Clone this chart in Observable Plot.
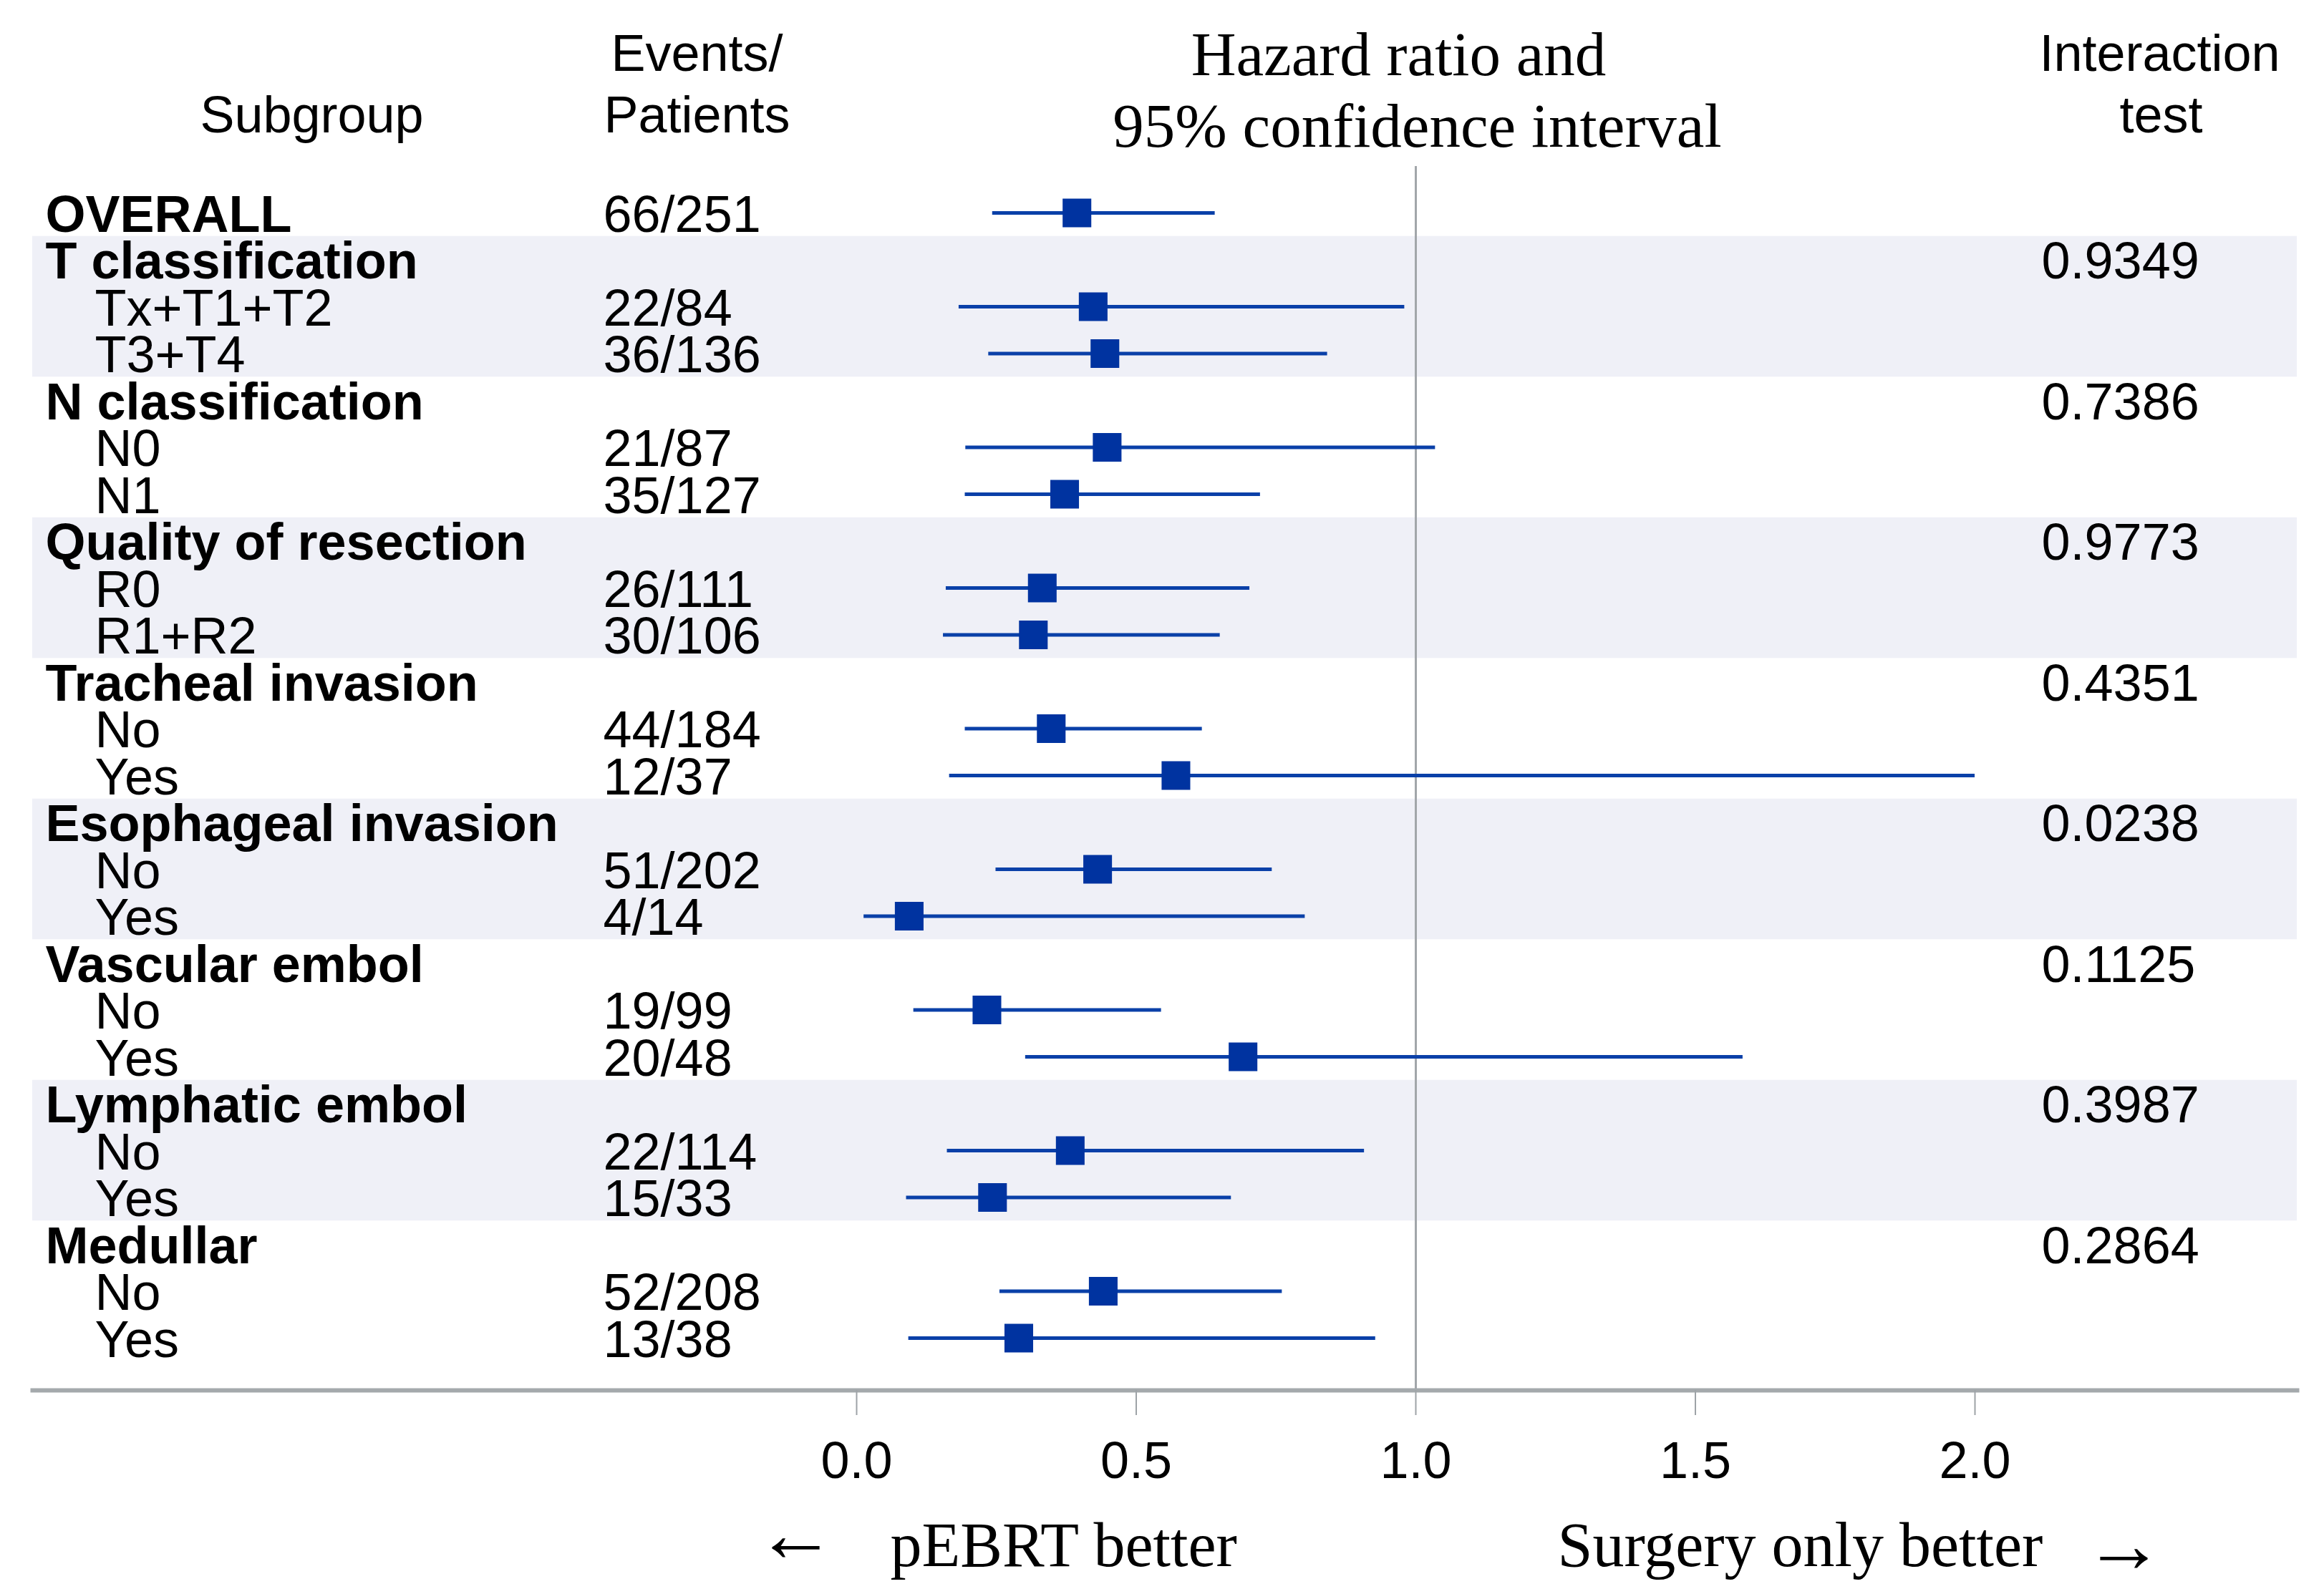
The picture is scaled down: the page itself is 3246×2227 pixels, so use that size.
<!DOCTYPE html>
<html>
<head>
<meta charset="utf-8">
<script src="https://cdn.jsdelivr.net/npm/d3@7"></script>
<script src="https://cdn.jsdelivr.net/npm/@observablehq/plot@0.6"></script>
<style>
  html, body { margin: 0; padding: 0; background: #fff; overflow: hidden; }
</style>
</head>
<body>
<div id="chart"></div>
<script>
// ---------- data ----------
const labels = ["OVERALL","T classification","Tx+T1+T2","T3+T4","N classification","N0","N1",
  "Quality of resection","R0","R1+R2","Tracheal invasion","No","Yes","Esophageal invasion","No","Yes",
  "Vascular embol","No","Yes","Lymphatic embol","No","Yes","Medullar","No","Yes"];
const isHeader = [1,1,0,0,1,0,0,1,0,0,1,0,0,1,0,0,1,0,0,1,0,0,1,0,0];
const events = ["66/251","","22/84","36/136","","21/87","35/127","","26/111","30/106","","44/184","12/37",
  "","51/202","4/14","","19/99","20/48","","22/114","15/33","","52/208","13/38"];
const hr   = [0.394,null,0.423,0.444,null,0.448,0.372,null,0.332,0.316,null,0.348,0.571,null,0.431,0.094,null,0.233,0.691,null,0.382,0.243,null,0.441,0.290];
const low  = [0.243,null,0.183,0.236,null,0.195,0.194,null,0.160,0.155,null,0.194,0.166,null,0.249,0.013,null,0.102,0.302,null,0.162,0.089,null,0.256,0.093];
const high = [0.641,null,0.980,0.842,null,1.035,0.722,null,0.703,0.650,null,0.618,2.000,null,0.743,0.802,null,0.545,1.585,null,0.908,0.670,null,0.761,0.928];
const pvalues = ["","0.9349","","","0.7386","","","0.9773","","","0.4351","","","0.0238","","",
  "0.1125","","","0.3987","","","0.2864","",""];
const xTicks = [0, 0.5, 1, 1.5, 2];

// ---------- derived tables ----------
const rows = labels.map((label, i) => ({
  i, label, header: isHeader[i] === 1, events: events[i],
  hr: hr[i], low: low[i], high: high[i], p: pvalues[i]
}));
const est = rows.filter(d => d.hr != null);
const headerIdx = rows.filter(d => d.header && d.i > 0).map(d => d.i);
const bands = headerIdx.map((h, k) => {
  const next = headerIdx[k + 1] ?? rows.length;
  return {y1: h - 0.5, y2: next - 0.5, shaded: k % 2 === 0};
}).filter(b => b.shaded);

// ---------- layout ----------
const W = 3246, H = 2227;
const ML = 45, MR = 38, MT = 232, MB = 285;
const SANS = "Liberation Sans, Arial, sans-serif";
const SERIF = "Liberation Serif, Times New Roman, serif";
const FS = 72;

function label(text, cx, baseline, o = {}) {
  return Plot.text([text], {
    text: d => d, frameAnchor: "top-left",
    dx: cx - ML, dy: baseline - MT, lineAnchor: "bottom",
    textAnchor: o.anchor ?? "middle", fontSize: o.size ?? FS,
    fontFamily: o.family ?? SANS, fontWeight: o.weight ?? "normal", fill: "black"
  });
}

const chart = Plot.plot({
  width: W, height: H,
  marginLeft: ML, marginRight: MR, marginTop: MT, marginBottom: MB,
  style: {background: "white", color: "black"},
  x: {domain: [0, 2], range: [1196, 2758]},
  y: {type: "linear", domain: [0, 24], range: [297, 1869], axis: null},
  marks: [
    Plot.rect(bands, {y1: "y1", y2: "y2", fill: "#eff0f7"}),
    Plot.ruleX([1], {stroke: "#a2a6aa", strokeWidth: 3}),
    Plot.frame({anchor: "bottom", stroke: "#a4a9ac", strokeWidth: 6}),
    Plot.axisX({
      ticks: xTicks, tickFormat: d3.format(".1f"), tickSize: 35, tickPadding: 36,
      fontSize: FS, fontFamily: SANS, stroke: "#9ea3a7", strokeWidth: 2, fill: "black", label: null
    }),
    Plot.ruleY(est, {y: "i", x1: "low", x2: "high", stroke: "#0a40a8", strokeWidth: 5}),
    Plot.dot(est, {x: "hr", y: "i", symbol: "square", r: 22.6, fill: "#0033a0", stroke: null}),
    // subgroup column
    Plot.text(rows.filter(d => d.header), {y: "i", text: "label", frameAnchor: "left", dx: 18, dy: 3,
      textAnchor: "start", fontSize: FS, fontWeight: "bold", fontFamily: SANS, fill: "black"}),
    Plot.text(rows.filter(d => !d.header), {y: "i", text: "label", frameAnchor: "left", dx: 87, dy: 3,
      textAnchor: "start", fontSize: FS, fontFamily: SANS, fill: "black"}),
    // events / patients
    Plot.text(rows.filter(d => d.events), {y: "i", text: "events", frameAnchor: "left", dx: 797, dy: 3,
      textAnchor: "start", fontSize: FS, fontFamily: SANS, fill: "black"}),
    // interaction p-values
    Plot.text(rows.filter(d => d.p), {y: "i", text: "p", frameAnchor: "left", dx: 2806, dy: 3,
      textAnchor: "start", fontSize: FS, fontFamily: SANS, fill: "black"}),
    // column headers
    label("Subgroup", 435, 184),
    label("Events/", 973, 98),
    label("Patients", 973, 184),
    label("Hazard ratio and", 1953, 104, {family: SERIF, size: 87}),
    label("95% confidence interval", 1979, 204, {family: SERIF, size: 87}),
    label("Interaction", 3016, 98),
    label("test", 3018, 184),
    // direction labels
    label("\u2190", 1055, 2180, {family: SERIF, size: 112, anchor: "start"}),
    label("pEBRT better", 1243, 2187, {family: SERIF, size: 88, anchor: "start"}),
    label("Surgery only better", 2175, 2187, {family: SERIF, size: 88, anchor: "start"}),
    label("\u2192", 2910, 2195, {family: SERIF, size: 112, anchor: "start"})
  ]
});
document.getElementById("chart").appendChild(chart);
</script>
</body>
</html>
